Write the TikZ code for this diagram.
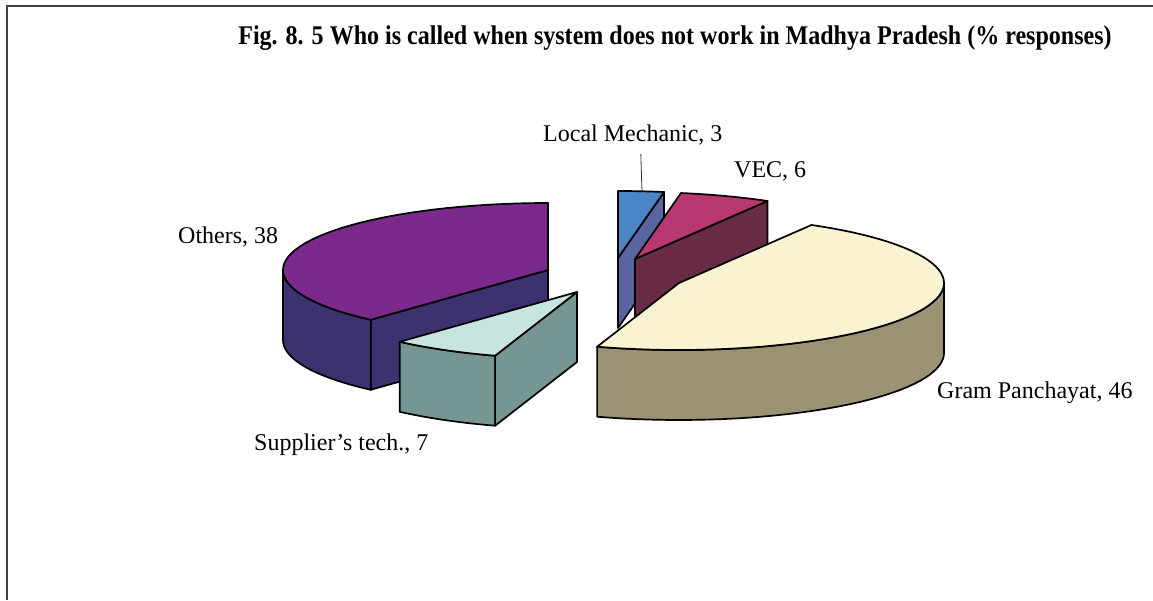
\documentclass[tikz,border=0pt]{standalone}
\usepackage{fontspec}
\setmainfont{Liberation Serif}
\usepackage{xcolor}
\usepackage{tikz}
\usetikzlibrary{calc}

\definecolor{othTop}{HTML}{7B2A8B}
\definecolor{othSide}{HTML}{3D3170}
\definecolor{supTop}{HTML}{C6E5E1}
\definecolor{supSide}{HTML}{769694}
\definecolor{gpTop}{HTML}{F9F3D1}
\definecolor{gpSide}{HTML}{9A9272}
\definecolor{vecTop}{HTML}{B8386F}
\definecolor{vecSide}{HTML}{692B45}
\definecolor{lmTop}{HTML}{4A86C6}
\definecolor{lmSide}{HTML}{5A64A0}

\begin{document}
\begin{tikzpicture}[x=1pt, y=-1pt,
        face/.style={draw=black, line width=1.7pt, line join=round},
        lbl/.style={anchor=base west, inner sep=0pt, font=\fontsize{24}{28}\selectfont},
        frame/.style={draw=black!75, line width=1.4pt}
    ]
    \useasboundingbox (0,0) rectangle (1153,600);
    \def\rx{265} \def\ry{67} \def\dep{70}

    % frame
    \draw[frame] (7,600) -- (7,6) -- (1153,6);

    % title
    \node[anchor=base, inner sep=0pt] (title) at (675,44)
        {\scalebox{0.89}[1]{\fontsize{27}{30}\selectfont\bfseries Fig. 8. 5 Who is called when system does not work in Madhya Pradesh (\% responses)}};

    % Local Mechanic slice
    \def\cx{618} \def\cy{258}
    \coordinate (lm) at (\cx,\cy);
    \draw[face, fill=lmSide] (lm) -- ({\cx+\rx*cos(80)},{\cy-\ry*sin(80)}) -- ({\cx+\rx*cos(80)},{\cy-\ry*sin(80)+\dep}) -- (\cx,\cy+\dep) -- cycle;
    \draw[face, fill=lmTop] (lm) -- plot[domain=80:90, samples=8] ({\cx+\rx*cos(\x)},{\cy-\ry*sin(\x)}) -- cycle;

    % VEC slice
    \def\cx{635} \def\cy{259}
    \coordinate (vec) at (\cx,\cy);
    \draw[face, fill=vecSide] (vec) -- ({\cx+\rx*cos(60)},{\cy-\ry*sin(60)}) -- ({\cx+\rx*cos(60)},{\cy-\ry*sin(60)+\dep}) -- (\cx,\cy+\dep) -- cycle;
    \draw[face, fill=vecTop] (vec) -- plot[domain=60:80, samples=12] ({\cx+\rx*cos(\x)},{\cy-\ry*sin(\x)}) -- cycle;

    % Others slice
    \def\cx{548} \def\cy{270}
    \coordinate (oth) at (\cx,\cy);
    \draw[face, fill=othSide] (oth) -- ({\cx+\rx*cos(228)},{\cy-\ry*sin(228)}) -- ({\cx+\rx*cos(228)},{\cy-\ry*sin(228)+\dep}) -- (\cx,\cy+\dep) -- cycle;
    \draw[face, fill=othSide] plot[domain=180:228, samples=25] ({\cx+\rx*cos(\x)},{\cy-\ry*sin(\x)})
        -- plot[domain=228:180, samples=25] ({\cx+\rx*cos(\x)},{\cy-\ry*sin(\x)+\dep}) -- cycle;
    \draw[face, fill=othTop] (oth) -- plot[domain=90:228, samples=50] ({\cx+\rx*cos(\x)},{\cy-\ry*sin(\x)}) -- cycle;

    % Supplier's tech. slice
    \def\cx{577} \def\cy{292}
    \coordinate (sup) at (\cx,\cy);
    \draw[face, fill=supSide] plot[domain=228:252, samples=12] ({\cx+\rx*cos(\x)},{\cy-\ry*sin(\x)})
        -- plot[domain=252:228, samples=12] ({\cx+\rx*cos(\x)},{\cy-\ry*sin(\x)+\dep}) -- cycle;
    \draw[face, fill=supSide] (sup) -- ({\cx+\rx*cos(252)},{\cy-\ry*sin(252)}) -- ({\cx+\rx*cos(252)},{\cy-\ry*sin(252)+\dep}) -- (\cx,\cy+\dep) -- cycle;
    \draw[face, fill=supTop] (sup) -- plot[domain=228:252, samples=12] ({\cx+\rx*cos(\x)},{\cy-\ry*sin(\x)}) -- cycle;

    % Gram Panchayat slice
    \def\cx{679} \def\cy{283}
    \coordinate (gp) at (\cx,\cy);
    \draw[face, fill=gpSide] plot[domain=252:360, samples=40] ({\cx+\rx*cos(\x)},{\cy-\ry*sin(\x)})
        -- plot[domain=360:252, samples=40] ({\cx+\rx*cos(\x)},{\cy-\ry*sin(\x)+\dep}) -- cycle;
    \draw[face, fill=gpTop] (gp) -- plot[domain=252:420, samples=60] ({\cx+\rx*cos(\x)},{\cy-\ry*sin(\x)}) -- cycle;

    % labels
    \node[lbl] (lmlbl) at (543,141) {Local Mechanic, 3};
    \node[lbl] (veclbl) at (734,177) {VEC, 6};
    \node[lbl] (othlbl) at (178,243) {Others, 38};
    \node[lbl] (suplbl) at (254,450) {Supplier’s tech., 7};
    \node[lbl] (gplbl) at (937,398) {Gram Panchayat, 46};
    \coordinate (lmtip) at (642,192);
    \draw[black!80, line width=0.8pt] ($(lmlbl.south)+(8,9)$) -- (lmtip);
\end{tikzpicture}
\end{document}
